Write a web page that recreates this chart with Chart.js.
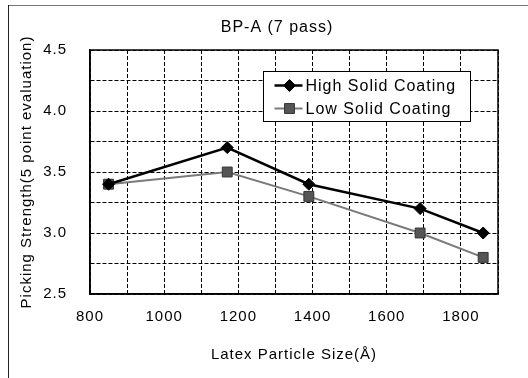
<!DOCTYPE html>
<html>
<head>
<meta charset="utf-8">
<title>BP-A (7 pass)</title>
<script src="https://cdn.jsdelivr.net/npm/chart.js@4.4.1/dist/chart.umd.min.js"></script>
<style>
  html, body { margin: 0; padding: 0; background: #fff; }
  #wrap { width: 528px; height: 378px; position: relative; }
</style>
</head>
<body>
<div id="wrap"><canvas id="chart1" width="528" height="378"></canvas></div>
<script>
var particleSize = [850, 1170, 1390, 1690, 1860];
var highSolid = [3.4, 3.7, 3.4, 3.2, 3.0];
var lowSolid = [3.4, 3.5, 3.3, 3.0, 2.8];
var seriesNames = ["High Solid Coating", "Low Solid Coating"];
var chartTitle = "BP-A (7 pass)";

var FONT = "'Liberation Sans', Arial, sans-serif";

function toPoints(xs, ys) {
  var pts = [];
  for (var i = 0; i < xs.length; i++) {
    pts.push({ x: xs[i], y: ys[i] });
  }
  return pts;
}

// wider letter spacing for all text on the canvas
var spacingPlugin = {
  id: "spacing",
  beforeUpdate: function (chart) { chart.ctx.letterSpacing = "1px"; },
  beforeDraw: function (chart) { chart.ctx.letterSpacing = "1px"; }
};

// outer frame, title, plot frame and boxed legend inside the plot
var framePlugin = {
  id: "frame",
  beforeDraw: function (chart) {
    var ctx = chart.ctx;
    ctx.save();
    ctx.fillStyle = "#fff";
    ctx.fillRect(0, 0, chart.width, chart.height);
    ctx.lineWidth = 1;
    ctx.strokeStyle = "#777";
    ctx.beginPath();
    ctx.moveTo(8, 5.5);
    ctx.lineTo(chart.width, 5.5);
    ctx.stroke();
    ctx.strokeStyle = "#222";
    ctx.beginPath();
    ctx.moveTo(8.5, 5);
    ctx.lineTo(8.5, chart.height);
    ctx.stroke();

    ctx.fillStyle = "#000";
    ctx.font = "16px " + FONT;
    ctx.textAlign = "center";
    ctx.textBaseline = "middle";
    ctx.fillText(chartTitle, 277, 28);
    ctx.restore();
  },
  afterDraw: function (chart) {
    var ctx = chart.ctx;
    var a = chart.chartArea;
    ctx.save();
    ctx.strokeStyle = "#000";
    ctx.lineWidth = 1.5;
    ctx.strokeRect(a.left, a.top, a.right - a.left, a.bottom - a.top);

    // legend box
    var bx = 263.5, by = 71.5, bw = 207, bh = 50;
    ctx.fillStyle = "#fff";
    ctx.fillRect(bx, by, bw, bh);
    ctx.lineWidth = 1;
    ctx.strokeRect(bx, by, bw, bh);
    ctx.font = "16px " + FONT;
    ctx.textBaseline = "middle";
    chart.data.datasets.forEach(function (ds, i) {
      var y = by + 14 + i * 23;
      ctx.strokeStyle = ds.borderColor;
      ctx.lineWidth = ds.borderWidth;
      ctx.beginPath();
      ctx.moveTo(bx + 11, y);
      ctx.lineTo(bx + 39, y);
      ctx.stroke();
      ctx.fillStyle = ds.pointBackgroundColor;
      ctx.strokeStyle = ds.pointBorderColor;
      ctx.lineWidth = 1;
      Chart.helpers.drawPoint(ctx, {
        pointStyle: ds.pointStyle,
        radius: ds.pointRadius,
        borderWidth: 1
      }, bx + 26, y);
      ctx.fillStyle = "#000";
      ctx.fillText(ds.label, bx + 42, y + 1);
    });
    ctx.restore();
  }
};

var ctx = document.getElementById("chart1");
var chart = new Chart(ctx, {
  type: "line",
  data: {
    datasets: [
      {
        label: seriesNames[0],
        data: toPoints(particleSize, highSolid),
        borderColor: "#000",
        backgroundColor: "#000",
        borderWidth: 2.5,
        pointStyle: "rectRot",
        pointRadius: 6,
        pointBorderWidth: 1,
        pointBorderColor: "#000",
        pointBackgroundColor: "#000",
        tension: 0
      },
      {
        label: seriesNames[1],
        data: toPoints(particleSize, lowSolid),
        borderColor: "#7a7a7a",
        backgroundColor: "#555",
        borderWidth: 2,
        pointStyle: "rect",
        pointRadius: 7,
        pointBorderWidth: 1,
        pointBorderColor: "#333",
        pointBackgroundColor: "#555",
        tension: 0
      }
    ]
  },
  options: {
    responsive: false,
    animation: false,
    events: [],
    layout: { padding: { left: 10, right: 30, top: 50, bottom: 14 } },
    plugins: {
      legend: { display: false },
      tooltip: { enabled: false },
      title: { display: false }
    },
    scales: {
      x: {
        type: "linear",
        min: 800,
        max: 1900,
        afterFit: function (scale) { scale.height = 70; },
        ticks: {
          stepSize: 100,
          autoSkip: false,
          maxRotation: 0,
          padding: 14,
          color: "#000",
          font: { family: FONT, size: 15 },
          callback: function (v) { return v % 200 === 0 ? String(v) : ""; }
        },
        grid: { color: "#000", lineWidth: 1, drawTicks: false },
        border: { color: "#000", width: 1.5, dash: [4, 2] },
        title: {
          display: true,
          text: "Latex Particle Size(Å)",
          color: "#000",
          font: { family: FONT, size: 15 },
          padding: { top: 0, bottom: 0 }
        }
      },
      y: {
        min: 2.5,
        max: 4.5,
        afterFit: function (scale) { scale.width = 80; },
        ticks: {
          stepSize: 0.25,
          autoSkip: false,
          padding: 23,
          color: "#000",
          font: { family: FONT, size: 15 },
          callback: function (v) {
            return Math.abs(v * 2 - Math.round(v * 2)) < 1e-6 ? v.toFixed(1) : "";
          }
        },
        grid: { color: "#000", lineWidth: 1, drawTicks: false },
        border: { color: "#000", width: 1.5, dash: [4, 2] },
        title: {
          display: true,
          text: "Picking Strength(5 point evaluation)",
          color: "#000",
          font: { family: FONT, size: 15 },
          padding: { top: 8, bottom: 0 }
        }
      }
    }
  },
  plugins: [spacingPlugin, framePlugin]
});
</script>
</body>
</html>
